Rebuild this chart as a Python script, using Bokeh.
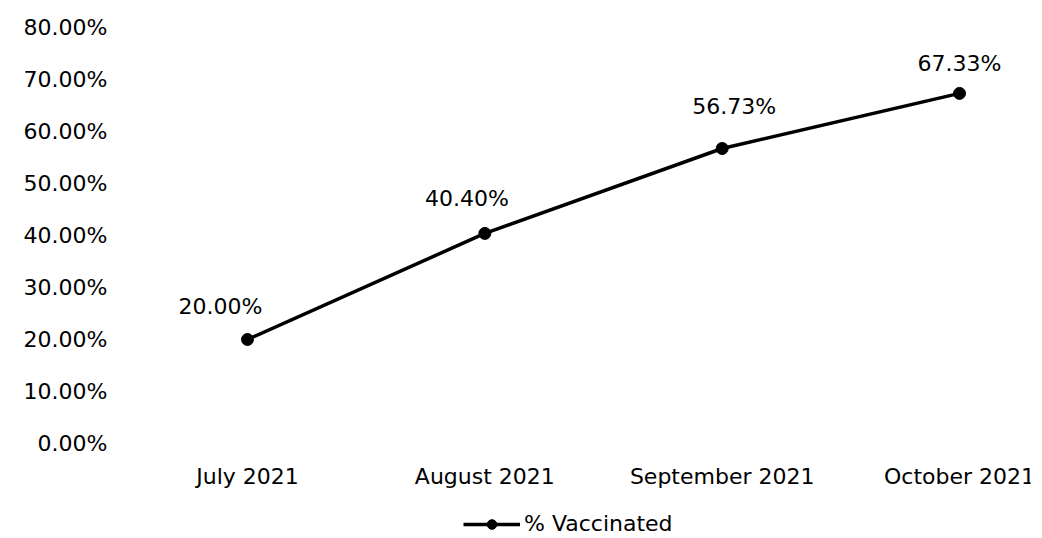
from bokeh.plotting import figure
from bokeh.models import (ColumnDataSource, Range1d, FixedTicker, PrintfTickFormatter,
                          Legend, LegendItem)
from bokeh.core.properties import value
from bokeh.embed import file_html
from bokeh.resources import INLINE

# ---- data ----
months = ["July 2021", "August 2021", "September 2021", "October 2021"]
vaccinated = [20.00, 40.40, 56.73, 67.33]
value_labels = ["20.00%", "40.40%", "56.73%", "67.33%"]
y_ticks = [0, 10, 20, 30, 40, 50, 60, 70, 80]

# ---- styling (label nudges in screen px) ----
label_dx = [-27, -18, 12, 0]
label_dy = [-33, -35, -42, -30]

FONT = "DejaVu Sans"
FS = "22px"

xs = list(range(len(months)))
src = ColumnDataSource(dict(x=xs, y=vaccinated, lab=value_labels, dx=label_dx, dy=label_dy))

# frame runs to the bottom of the figure so the legend below the x labels is not clipped
p = figure(width=1040, height=536, output_backend="svg", toolbar_location=None,
           x_range=Range1d(-0.514, 3.299), y_range=Range1d(-17.885, 80),
           min_border_left=125, min_border_right=10, min_border_top=27, min_border_bottom=0)
p.outline_line_color = None
p.xgrid.visible = False
p.ygrid.visible = False
p.background_fill_color = "white"
p.border_fill_color = "white"

line = p.line("x", "y", source=src, line_color="black", line_width=3.5)
dots = p.scatter("x", "y", source=src, size=12, fill_color="black", line_color="black")
p.text("x", "y", text="lab", source=src, x_offset="dx", y_offset="dy",
       text_align="center", text_baseline="middle", text_color="black",
       text_font=value(FONT), text_font_size=FS)

# axes
p.yaxis.ticker = FixedTicker(ticks=y_ticks)
p.yaxis.formatter = PrintfTickFormatter(format="%.2f%%")
p.yaxis.axis_line_color = None
p.yaxis.major_tick_line_color = None
p.yaxis.minor_tick_line_color = None
p.yaxis.major_tick_out = 0
p.yaxis.major_label_standoff = 18
p.yaxis.major_label_text_font = FONT
p.yaxis.major_label_text_font_size = FS
p.yaxis.major_label_text_color = "black"

p.xaxis.ticker = FixedTicker(ticks=xs)
p.xaxis.fixed_location = 0
p.xaxis.major_label_overrides = {i: m for i, m in enumerate(months)}
p.xaxis.axis_line_color = None
p.xaxis.major_tick_line_color = None
p.xaxis.minor_tick_line_color = None
p.xaxis.major_tick_out = 0
p.xaxis.major_label_standoff = 21
p.xaxis.major_label_text_font = FONT
p.xaxis.major_label_text_font_size = FS
p.xaxis.major_label_text_color = "black"

legend = Legend(items=[LegendItem(label="% Vaccinated", renderers=[line, dots])],
                location=(338, 0), orientation="horizontal",
                glyph_width=57, glyph_height=24, label_standoff=4,
                padding=0, margin=0, border_line_color=None,
                background_fill_alpha=0,
                label_text_font=FONT, label_text_font_size=FS, label_text_color="black")
p.add_layout(legend, "center")

open("out.html", "w").write(file_html(p, INLINE))
